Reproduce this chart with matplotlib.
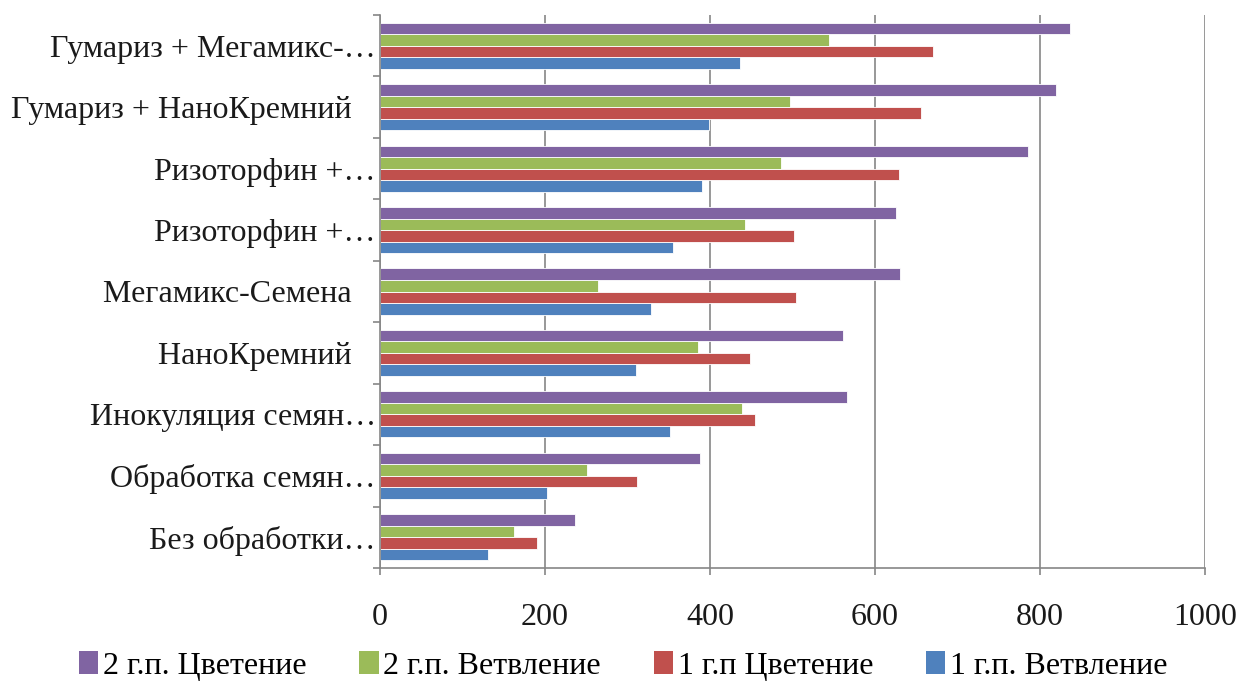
import matplotlib
matplotlib.use("Agg")
import matplotlib.pyplot as plt
import numpy as np
from matplotlib.patches import Patch
from matplotlib.ticker import FixedLocator

plt.rcParams['font.family'] = ['Liberation Serif', 'DejaVu Serif']

categories = [
    "Без обработки…",
    "Обработка семян…",
    "Инокуляция семян…",
    "НаноКремний   ",
    "Мегамикс-Семена   ",
    "Ризоторфин +…",
    "Ризоторфин +…",
    "Гумариз + НаноКремний   ",
    "Гумариз + Мегамикс-…",
]

series_names = ["1 г.п. Ветвление", "1 г.п Цветение", "2 г.п. Ветвление", "2 г.п. Цветение"]
s1_branch_y1 = [131, 202, 352, 310, 329, 355, 390, 399, 436]
s2_flower_y1 = [190, 311, 454, 449, 504, 502, 629, 656, 670]
s3_branch_y2 = [163, 251, 439, 386, 264, 442, 486, 497, 544]
s4_flower_y2 = [236, 388, 566, 561, 630, 626, 785, 819, 836]
series_values = [s1_branch_y1, s2_flower_y1, s3_branch_y2, s4_flower_y2]
colors = ["#4F81BD", "#C0504D", "#9BBB59", "#8064A2"]

x_ticks = [0, 200, 400, 600, 800, 1000]

FS = 23
W, H = 1239, 686
fig = plt.figure(figsize=(W / 100, H / 100), dpi=100)
ax = fig.add_axes([380 / W, 1 - 568 / H, (1205 - 380) / W, (568 - 15) / H])

n = len(series_values)
bh = 0.1875
y = np.arange(len(categories))
for i, (vals, c) in enumerate(zip(series_values, colors)):
    offs = (i - (n - 1) / 2) * bh
    ax.barh(y + offs, vals, height=bh, color=c, edgecolor='white', linewidth=0.6, zorder=3)

ax.set_xlim(0, 1000)
ax.set_ylim(-0.5, len(categories) - 0.5)
ax.set_xticks(x_ticks)
ax.set_xticklabels([str(t) for t in x_ticks])
ax.set_yticks(y)
ax.set_yticklabels(categories)
ax.yaxis.set_minor_locator(FixedLocator(np.arange(-0.5, len(categories), 1.0)))
ax.tick_params(axis='y', which='major', length=0, pad=3, labelsize=FS, colors='#1a1a1a')
ax.tick_params(axis='y', which='minor', length=5, width=1.2, color='#868686', direction='out')
ax.tick_params(axis='x', which='major', length=5, width=1.2, color='#868686', direction='out',
               pad=20, labelsize=FS, labelcolor='#1a1a1a')

ax.grid(axis='x', color='#868686', linewidth=1.2, zorder=0)
for side in ['top', 'right']:
    ax.spines[side].set_visible(False)
for side in ['left', 'bottom']:
    ax.spines[side].set_color('#868686')
    ax.spines[side].set_linewidth(1.2)
    ax.spines[side].set_zorder(4)

handles = [Patch(facecolor=colors[i], edgecolor='none', label=series_names[i]) for i in [3, 2, 1, 0]]
fig.legend(handles=handles, loc='center', bbox_to_anchor=(0.503, 1 - 666 / H), ncol=4,
           frameon=False, fontsize=FS, handlelength=0.6, handleheight=0.75,
           handletextpad=0.15, columnspacing=1.65)

fig.savefig("out.png", dpi=100)
